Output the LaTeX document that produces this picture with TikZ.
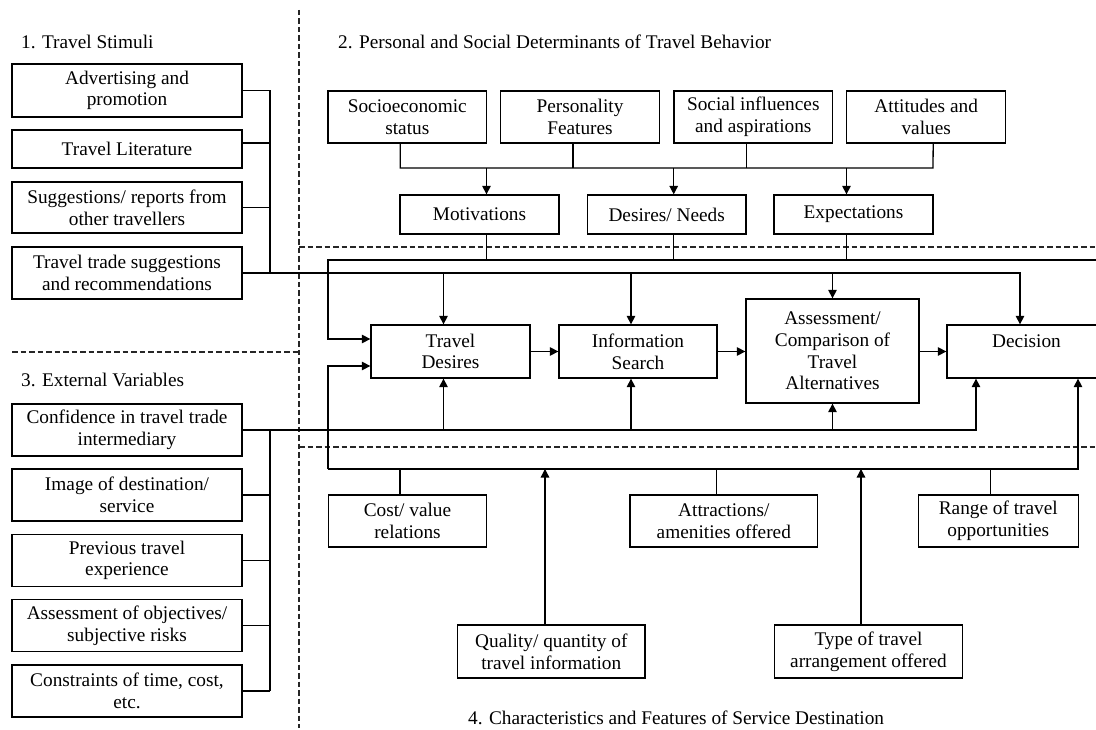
\documentclass[tikz,border=0pt]{standalone}
\usepackage{fontspec}
\setmainfont{Liberation Serif}
\usetikzlibrary{arrows.meta}

\tikzset{
  txt/.style={font=\fontsize{19.3}{21.7}\selectfont},
  box/.style={draw, line width=1.3pt, align=center, inner sep=0pt, txt},
  link/.style={line width=1.3pt},
  arr/.style={link, -{Triangle[length=8.5pt,width=8.5pt]}},
  sep/.style={line width=1.1pt, black!85, dash pattern=on 5.5pt off 3pt},
  title/.style={txt, anchor=west, inner sep=0pt}
}

\begin{document}
\begin{tikzpicture}[x=1pt,y=-1pt]
\clip (0,0) rectangle (1096,730);
\fill[white] (0,0) rectangle (1096,730);

% section separators
\draw[sep] (299,10) -- (299,728);
\draw[sep] (12,352) -- (299,352);
\draw[sep] (299,247) -- (1096,247);
\draw[sep] (299,447) -- (1096,447);

% section titles
\node[title] (t1) at (21,42) {1. Travel Stimuli};
\node[title] (t2) at (338,42) {2. Personal and Social Determinants of Travel Behavior};
\node[title] (t3) at (21,380) {3. External Variables};
\node[title] (t4) at (468,718) {4. Characteristics and Features of Service Destination};

% 1. travel stimuli
\node[box, minimum width=230, minimum height=53] (s1) at (127,90.5) {Advertising and\\promotion};
\node[box, minimum width=230, minimum height=38] (s2) at (127,149) {Travel Literature};
\node[box, minimum width=230, minimum height=51] (s3) at (127,207.5) {Suggestions/ reports from\\other travellers};
\node[box, minimum width=230, minimum height=52] (s4) at (127,273) {Travel trade suggestions\\and recommendations};

% 3. external variables
\node[box, minimum width=230, minimum height=52] (e1) at (127,430) {Confidence in travel trade\\intermediary};
\node[box, minimum width=230, minimum height=52] (e2) at (127,495) {Image of destination/\\service};
\node[box, minimum width=230, minimum height=52] (e3) at (127,560.5) {Previous travel\\experience};
\node[box, minimum width=230, minimum height=52] (e4) at (127,625.5) {Assessment of objectives/\\subjective risks};
\node[box, minimum width=230, minimum height=52] (e5) at (127,691) {Constraints of time, cost,\\etc.};

% 2. personal and social determinants
\node[box, minimum width=158.7, minimum height=52] (p1) at (407.3,117) {Socioeconomic\\status};
\node[box, minimum width=158.7, minimum height=52] (p2) at (580,117) {Personality\\Features};
\node[box, minimum width=158.7, minimum height=52] (p3) at (753.3,117) {Social influences\\and aspirations};
\node[box, minimum width=159, minimum height=52] (p4) at (926.2,117) {Attitudes and\\values};

\node[box, minimum width=159, minimum height=39] (m1) at (479.5,214.5) {Motivations};
\node[box, minimum width=158.7, minimum height=39] (m2) at (666.7,214.5) {Desires/ Needs};
\node[box, minimum width=159, minimum height=39] (m3) at (853.5,214.5) {Expectations};

% decision process
\node[box, minimum width=159, minimum height=53] (td) at (450.5,351.5) {Travel\\Desires};
\node[box, minimum width=158, minimum height=53] (is) at (638,351.5) {Information\\Search};
\node[box, minimum width=173, minimum height=104] (as) at (832.5,351) {Assessment/\\Comparison of\\Travel\\Alternatives};
\node[box, minimum width=159, minimum height=53] (dc) at (1026.5,351.5) {Decision\\\phantom{D}};

% 4. characteristics of the service destination
\node[box, minimum width=158.4, minimum height=52] (c1) at (407.5,521) {Cost/ value\\relations};
\node[box, minimum width=187.7, minimum height=52] (c2) at (723.8,521) {Attractions/\\amenities offered};
\node[box, minimum width=160, minimum height=52] (c3) at (998.3,521) {Range of travel\\opportunities};
\node[box, minimum width=187.3, minimum height=53] (q1) at (551.3,651.5) {Quality/ quantity of\\travel information};
\node[box, minimum width=188.4, minimum height=53] (q2) at (868.5,651.5) {Type of travel\\arrangement offered};

% bus points
\coordinate (sbus) at (270,273);
\coordinate (ebus) at (270,691);
\coordinate (pb1) at (400,168);
\coordinate (pb4) at (933,168);
\coordinate (mb) at (328,260);
\coordinate (mbr) at (1096,260);
\coordinate (db) at (328,469);

% stimuli into the process
\draw[link] (s1.east) -| (sbus);
\draw[link] ([yshift=6]s2.east) -- ([yshift=6]s2.east -| sbus);
\draw[link] (s3.east) -- (s3.east -| sbus);
\draw[arr] (s4.east) -| ([xshift=-6.5]dc.north);
\draw[arr] ([xshift=-7]td.north |- s4.east) -- ([xshift=-7]td.north);
\draw[arr] ([xshift=-7]is.north |- s4.east) -- ([xshift=-7]is.north);
\draw[arr] (as.north |- s4.east) -- (as.north);

% determinants
\draw[link] ([xshift=-7]p1.south) |- (pb4) -- ([xshift=7]p4.south);
\draw[link] ([xshift=-7]p2.south) -- ([xshift=-7]p2.south |- pb1);
\draw[link] ([xshift=-7]p3.south) -- ([xshift=-7]p3.south |- pb1);
\draw[arr] ([xshift=7]m1.north |- pb1) -- ([xshift=7]m1.north);
\draw[arr] ([xshift=7]m2.north |- pb1) -- ([xshift=7]m2.north);
\draw[arr] ([xshift=-7]m3.north |- pb1) -- ([xshift=-7]m3.north);
\draw[link] ([xshift=7]m1.south) -- ([xshift=7]m1.south |- mb);
\draw[link] ([xshift=7]m2.south) -- ([xshift=7]m2.south |- mb);
\draw[link] ([xshift=-7]m3.south) -- ([xshift=-7]m3.south |- mb);
\draw[arr] (mbr) -- (mb) |- ([yshift=12.5]td.west);

% process chain
\draw[arr] (td.east) -- (is.west);
\draw[arr] (is.east) -- (as.west |- is.east);
\draw[arr] (as.east |- dc.west) -- (dc.west);

% external variables into the process
\draw[link] (e1.east -| ebus) -- (ebus);
\draw[link] (e2.east) -- (e2.east -| ebus);
\draw[link] (e3.east) -- (e3.east -| ebus);
\draw[link] (e4.east) -- (e4.east -| ebus);
\draw[link] (e5.east) -- (ebus);
\draw[arr] (e1.east) -| ([xshift=-50.5]dc.south);
\draw[arr] ([xshift=-7]td.south |- e1.east) -- ([xshift=-7]td.south);
\draw[arr] ([xshift=-7]is.south |- e1.east) -- ([xshift=-7]is.south);
\draw[arr] (as.south |- e1.east) -- (as.south);

% destination characteristics into the process
\draw[arr] (db) -| ([xshift=51.5]dc.south);
\draw[arr] (db) |- ([yshift=-14.5]td.west);
\draw[link] ([xshift=-7.5]c1.north) -- ([xshift=-7.5]c1.north |- db);
\draw[link] ([xshift=-7]c2.north) -- ([xshift=-7]c2.north |- db);
\draw[link] ([xshift=-8]c3.north) -- ([xshift=-8]c3.north |- db);
\draw[arr] ([xshift=-6.3]q1.north) -- ([xshift=-6.3]q1.north |- db);
\draw[arr] ([xshift=-7.5]q2.north) -- ([xshift=-7.5]q2.north |- db);
\end{tikzpicture}
\end{document}
